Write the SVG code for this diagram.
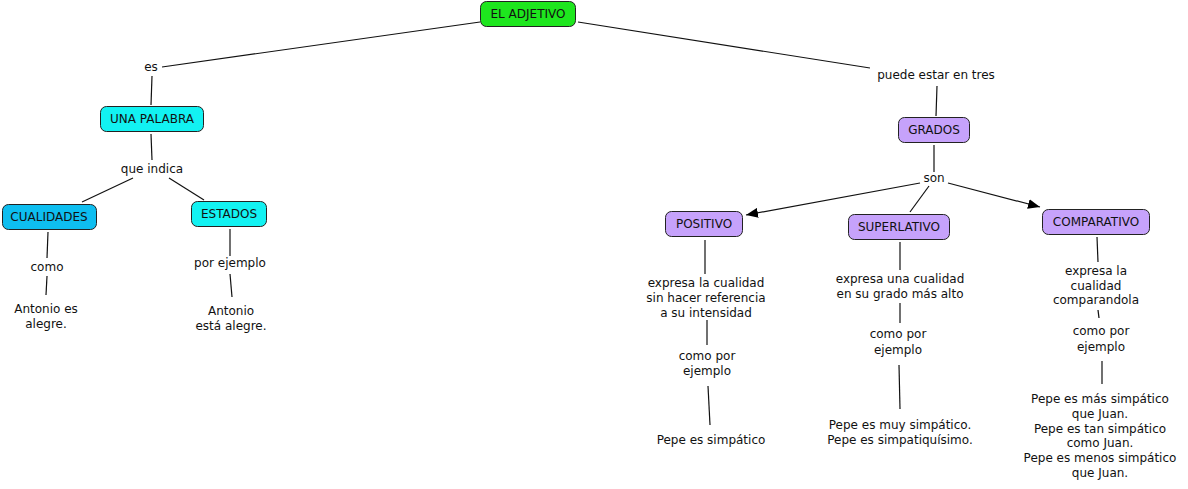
<svg xmlns="http://www.w3.org/2000/svg" width="1188" height="489" viewBox="0 0 1188 489">
<style>
text{font-family:"DejaVu Sans","Verdana",sans-serif;font-size:12px;fill:#111;text-anchor:middle}
.box{stroke:#222;stroke-width:1}
.green{fill:#1ee61e}
.cyan{fill:#12f2f2}
.blue{fill:#0ebef0}
.purple{fill:#c6a2fb}
.ln{stroke:#111;stroke-width:1.2;fill:none}
</style>
<defs>
<marker id="ah" markerWidth="12" markerHeight="10" refX="12" refY="5" orient="auto" markerUnits="userSpaceOnUse">
<path d="M0,0 L12,5 L0,10 z" fill="#000"/>
</marker>
</defs>
<rect width="1188" height="489" fill="#fff"/>
<g id="connectors">
<line class="ln" x1="480" y1="22" x2="162" y2="67"/>
<line class="ln" x1="152" y1="76" x2="151" y2="105"/>
<line class="ln" x1="151" y1="134" x2="152" y2="160"/>
<line class="ln" x1="133" y1="178" x2="82" y2="202"/>
<line class="ln" x1="169" y1="178" x2="204" y2="200"/>
<line class="ln" x1="48" y1="232" x2="47" y2="258"/>
<line class="ln" x1="47" y1="276" x2="46" y2="295"/>
<line class="ln" x1="230" y1="229" x2="230" y2="256"/>
<line class="ln" x1="230" y1="274" x2="232" y2="297"/>
<line class="ln" x1="578" y1="22" x2="870" y2="68"/>
<line class="ln" x1="937" y1="86" x2="936" y2="116"/>
<line class="ln" x1="934" y1="145" x2="934" y2="172"/>
<line class="ln" x1="920" y1="183" x2="746" y2="215" marker-end="url(#ah)"/>
<line class="ln" x1="929" y1="186" x2="910" y2="212"/>
<line class="ln" x1="948" y1="183" x2="1040" y2="207" marker-end="url(#ah)"/>
<line class="ln" x1="705" y1="240" x2="705" y2="274"/>
<line class="ln" x1="707" y1="320" x2="707" y2="345"/>
<line class="ln" x1="708" y1="386" x2="710" y2="425"/>
<line class="ln" x1="900" y1="242" x2="900" y2="270"/>
<line class="ln" x1="900" y1="303" x2="900" y2="323"/>
<line class="ln" x1="899" y1="365" x2="900" y2="409"/>
<line class="ln" x1="1097" y1="237" x2="1098" y2="262"/>
<line class="ln" x1="1098" y1="310" x2="1099" y2="318"/>
<line class="ln" x1="1102" y1="361" x2="1102" y2="384"/>
</g>
<g id="el-adjetivo"><rect class="box green" x="480.5" y="1.5" width="95" height="25" rx="6"/><text x="528" y="18">EL ADJETIVO</text></g>
<g id="es"><text x="151" y="71">es</text></g>
<g id="una-palabra"><rect class="box cyan" x="100.5" y="106.5" width="103" height="25" rx="6"/><text x="152" y="123">UNA PALABRA</text></g>
<g id="que-indica"><text x="152" y="173">que indica</text></g>
<g id="cualidades"><rect class="box blue" x="2.5" y="204.5" width="94" height="25" rx="6"/><text x="49" y="221">CUALIDADES</text></g>
<g id="estados"><rect class="box cyan" x="191.5" y="201.5" width="75" height="25" rx="6"/><text x="229" y="218">ESTADOS</text></g>
<g id="como"><text x="47" y="271">como</text></g>
<g id="antonio-es-alegre"><text x="46" y="313">Antonio es</text><text x="46" y="328">alegre.</text></g>
<g id="por-ejemplo"><text x="230" y="267">por ejemplo</text></g>
<g id="antonio-esta-alegre"><text x="231" y="315">Antonio</text><text x="231" y="330">está alegre.</text></g>
<g id="puede-estar"><text x="936" y="79">puede estar en tres</text></g>
<g id="grados"><rect class="box purple" x="898.5" y="117.5" width="71" height="25" rx="6"/><text x="934" y="134">GRADOS</text></g>
<g id="son"><text x="934" y="182">son</text></g>
<g id="positivo"><rect class="box purple" x="665.5" y="211.5" width="77" height="25" rx="6"/><text x="704" y="228">POSITIVO</text></g>
<g id="superlativo"><rect class="box purple" x="848.5" y="214.5" width="101" height="25" rx="6"/><text x="899" y="231">SUPERLATIVO</text></g>
<g id="comparativo"><rect class="box purple" x="1042.5" y="209.5" width="107" height="25" rx="6"/><text x="1096" y="226">COMPARATIVO</text></g>
<g id="pos-desc"><text x="706" y="287">expresa la cualidad</text><text x="706" y="302">sin hacer referencia</text><text x="706" y="317">a su intensidad</text></g>
<g id="pos-como"><text x="707" y="360">como por</text><text x="707" y="375">ejemplo</text></g>
<g id="pos-ej"><text x="711" y="444">Pepe es simpático</text></g>
<g id="sup-desc"><text x="900" y="283">expresa una cualidad</text><text x="900" y="298">en su grado más alto</text></g>
<g id="sup-como"><text x="898" y="338">como por</text><text x="898" y="354">ejemplo</text></g>
<g id="sup-ej"><text x="900" y="429">Pepe es muy simpático.</text><text x="900" y="444">Pepe es simpatiquísimo.</text></g>
<g id="comp-desc"><text x="1096" y="275">expresa la</text><text x="1096" y="290">cualidad</text><text x="1096" y="304">comparandola</text></g>
<g id="comp-como"><text x="1101" y="335">como por</text><text x="1101" y="351">ejemplo</text></g>
<g id="comp-ej"><text x="1100" y="403">Pepe es más simpático</text><text x="1100" y="418">que Juan.</text><text x="1100" y="433">Pepe es tan simpático</text><text x="1100" y="447">como Juan.</text><text x="1100" y="462">Pepe es menos simpático</text><text x="1100" y="477">que Juan.</text></g>
</svg>
